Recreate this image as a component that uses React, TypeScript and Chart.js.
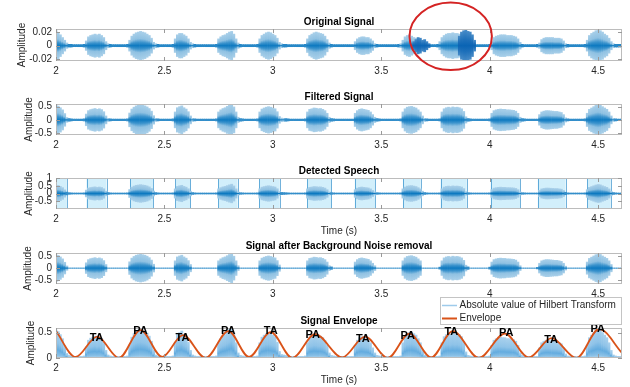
import React, { useEffect, useRef } from 'react';
import { Chart, registerables } from 'chart.js';

Chart.register(...registerables);

const FONT = "'Liberation Sans', Arial, Helvetica, sans-serif";

// ---- time axis ----
const T0 = 2.0;
const DT = 0.01;
const X_MIN = 2.0;
const X_MAX = 4.61;
const xTicks = [2, 2.5, 3, 3.5, 4, 4.5];

// ---- filtered signal: peak amplitude per 10 ms bin (2.00 s .. 4.61 s) ----
const filteredPeak = [
  0.55, 0.52, 0.46, 0.38, 0.24, 0.09, 0.05, 0.04, 0.03, 0.03, // 2.00
  0.03, 0.03, 0.03, 0.04, 0.22, 0.35, 0.39, 0.41, 0.43, 0.40, // 2.10
  0.42, 0.39, 0.31, 0.15, 0.06, 0.04, 0.03, 0.03, 0.03, 0.03, // 2.20
  0.03, 0.03, 0.03, 0.04, 0.26, 0.41, 0.48, 0.53, 0.55, 0.57, // 2.30
  0.55, 0.53, 0.49, 0.43, 0.33, 0.16, 0.06, 0.04, 0.03, 0.03, // 2.40
  0.03, 0.03, 0.03, 0.03, 0.04, 0.30, 0.46, 0.50, 0.53, 0.46, // 2.50
  0.41, 0.31, 0.15, 0.06, 0.04, 0.03, 0.03, 0.03, 0.03, 0.03, // 2.60
  0.03, 0.03, 0.03, 0.03, 0.04, 0.30, 0.38, 0.43, 0.46, 0.51, // 2.70
  0.56, 0.60, 0.49, 0.30, 0.10, 0.05, 0.04, 0.03, 0.03, 0.03, // 2.80
  0.03, 0.03, 0.03, 0.04, 0.30, 0.41, 0.45, 0.48, 0.50, 0.48, // 2.90
  0.45, 0.42, 0.31, 0.13, 0.07, 0.06, 0.05, 0.04, 0.03, 0.03, // 3.00
  0.03, 0.03, 0.03, 0.03, 0.03, 0.04, 0.30, 0.40, 0.42, 0.45, // 3.10
  0.44, 0.42, 0.43, 0.40, 0.35, 0.25, 0.10, 0.05, 0.04, 0.03, // 3.20
  0.03, 0.03, 0.03, 0.03, 0.03, 0.03, 0.03, 0.03, 0.25, 0.35, // 3.30
  0.40, 0.42, 0.40, 0.38, 0.36, 0.30, 0.20, 0.10, 0.05, 0.04, // 3.40
  0.03, 0.03, 0.03, 0.03, 0.03, 0.03, 0.03, 0.03, 0.03, 0.04, // 3.50
  0.30, 0.42, 0.48, 0.50, 0.51, 0.48, 0.45, 0.38, 0.30, 0.15, // 3.60
  0.06, 0.04, 0.03, 0.03, 0.03, 0.03, 0.03, 0.04, 0.30, 0.42, // 3.70
  0.46, 0.48, 0.46, 0.49, 0.47, 0.48, 0.46, 0.42, 0.32, 0.12, // 3.80
  0.05, 0.04, 0.03, 0.03, 0.03, 0.03, 0.03, 0.03, 0.03, 0.03, // 3.90
  0.04, 0.25, 0.35, 0.38, 0.40, 0.41, 0.40, 0.40, 0.38, 0.38, // 4.00
  0.37, 0.36, 0.33, 0.25, 0.10, 0.05, 0.04, 0.03, 0.03, 0.03, // 4.10
  0.03, 0.03, 0.03, 0.20, 0.30, 0.33, 0.35, 0.35, 0.34, 0.33, // 4.20
  0.32, 0.32, 0.30, 0.28, 0.20, 0.08, 0.04, 0.03, 0.03, 0.03, // 4.30
  0.03, 0.03, 0.03, 0.03, 0.04, 0.25, 0.40, 0.45, 0.50, 0.55, // 4.40
  0.58, 0.56, 0.50, 0.45, 0.40, 0.30, 0.15, 0.06, 0.04, 0.03, // 4.50
  0.03, 0.03, // 4.60
];

// ---- original signal: peak amplitude per 10 ms bin, in thousandths ----
const originalPeakMilli = [
  22, 19, 16, 12, 8, 4, 2, 2, 1.5, 1.5, // 2.00
  1.5, 1.5, 1.5, 2, 7, 13, 15, 16, 17, 16, // 2.10
  17, 15, 12, 6, 3, 2, 1.5, 1.5, 1.5, 1.5, // 2.20
  1.5, 1.5, 1.5, 2, 8, 14, 17, 19, 20, 21, // 2.30
  20, 19, 17, 15, 11, 5, 3, 2, 1.5, 1.5, // 2.40
  1.5, 1.5, 1.5, 1.5, 2, 10, 16, 18, 18, 16, // 2.50
  14, 10, 5, 3, 2, 1.5, 1.5, 1.5, 1.5, 1.5, // 2.60
  1.5, 1.5, 1.5, 1.5, 2, 10, 13, 15, 16, 18, // 2.70
  20, 21, 17, 10, 4, 2, 1.5, 1.5, 1.5, 1.5, // 2.80
  1.5, 1.5, 1.5, 2, 10, 15, 17, 19, 20, 19, // 2.90
  17, 15, 11, 5, 3, 2, 2, 1.5, 1.5, 1.5, // 3.00
  1.5, 1.5, 1.5, 1.5, 1.5, 2, 10, 15, 17, 19, // 3.10
  20, 19, 18, 17, 14, 9, 4, 2, 1.5, 1.5, // 3.20
  1.5, 1.5, 1.5, 1.5, 1.5, 1.5, 1.5, 1.5, 6, 10, // 3.30
  12, 13, 13, 12, 12, 10, 7, 3, 2, 1.5, // 3.40
  1.5, 1.5, 1.5, 1.5, 1.5, 1.5, 1.5, 1.5, 2, 3, // 3.50
  8, 13, 15, 16, 14, 12, 11, 10, 8, 6, // 3.60
  4, 3, 2, 1.5, 1.5, 1.5, 2, 6, 12, 15, // 3.70
  17, 18, 18, 19, 18, 18, 17, 16, 14, 12, // 3.80
  8, 5, 3, 2, 1.5, 1.5, 1.5, 1.5, 1.5, 1.5, // 3.90
  2, 6, 12, 14, 15, 16, 16, 16, 15, 15, // 4.00
  15, 14, 13, 10, 5, 2, 1.5, 1.5, 1.5, 1.5, // 4.10
  1.5, 1.5, 2, 4, 9, 11, 12, 12, 12, 12, // 4.20
  11, 11, 11, 10, 7, 3, 2, 1.5, 1.5, 1.5, // 4.30
  1.5, 1.5, 1.5, 1.5, 2, 8, 15, 18, 20, 22, // 4.40
  23, 22, 20, 17, 15, 11, 6, 3, 2, 2, // 4.50
  2, 2, // 4.60
];

// dense low-frequency bursts inside the highlighted region (thousandths)
const burstTimes = [3.65, 3.66, 3.67, 3.68, 3.69, 3.7, 3.71, 3.72, 3.86, 3.87, 3.88, 3.89, 3.9, 3.91, 3.92, 3.93];
const burstPeakMilli = [6, 9, 12, 11, 8, 9, 6, 3, 14, 20, 22, 23, 21, 20, 16, 8];

// ---- detected speech segments (s) ----
const segStart = [2.0, 2.141, 2.341, 2.551, 2.748, 2.937, 3.158, 3.378, 3.6, 3.774, 4.005, 4.222, 4.45];
const segEnd = [2.05, 2.233, 2.448, 2.62, 2.837, 3.032, 3.27, 3.471, 3.682, 3.894, 4.14, 4.35, 4.558];

// ---- envelope extrema ----
const envTimes = [2.0, 2.09, 2.19, 2.29, 2.39, 2.49, 2.585, 2.69, 2.795, 2.89, 2.99, 3.09, 3.195, 3.32, 3.425, 3.53, 3.63, 3.73, 3.83, 3.95, 4.07, 4.18, 4.285, 4.4, 4.505, 4.61];
const envValues = [0.53, 0.02, 0.42, 0.0, 0.55, 0.02, 0.45, 0.0, 0.53, 0.02, 0.51, 0.0, 0.47, 0.01, 0.42, 0.0, 0.48, 0.01, 0.53, 0.0, 0.48, 0.01, 0.39, 0.0, 0.57, 0.1];

// ---- syllable labels ----
const syllableText = ['TA', 'PA', 'TA', 'PA', 'TA', 'PA', 'TA', 'PA', 'TA', 'PA', 'TA', 'PA'];
const syllableTime = [2.187, 2.39, 2.583, 2.794, 2.99, 3.184, 3.415, 3.622, 3.823, 4.076, 4.283, 4.498];
const syllableHeight = [0.39, 0.53, 0.39, 0.525, 0.525, 0.45, 0.37, 0.435, 0.505, 0.49, 0.35, 0.565];

// ---- y ticks ----
const yTicksOriginal = [-0.02, 0, 0.02];
const yTicksFiltered = [-0.5, 0, 0.5];
const yTicksDetected = [-0.5, 0, 0.5, 1];
const yTicksDenoised = [-0.5, 0, 0.5];
const yTicksEnvelope = [0, 0.5];

const plotTitles = ['Original Signal', 'Filtered Signal', 'Detected Speech', 'Signal after Background Noise removal', 'Signal Envelope'];
const legendLabels = ['Absolute value of Hilbert Transform', 'Envelope'];
const highlight = { t: 3.82, v: 0.0138, dt: 0.19, dv: 0.0496 };

// ---- derived series ----
const binTimes = filteredPeak.map((_, i) => Math.round((T0 + i * DT) * 100) / 100);
const symBars = (amps: number[], unit: number) => amps.map((a, i) => ({ x: binTimes[i], y: [-a * unit, a * unit] }));
const inSpeech = (t: number) => segStart.some((s, k) => t >= s - 0.006 && t <= segEnd[k] + 0.006);

const BLUE: [number, number, number] = [0, 114, 189];
const HBLUE: [number, number, number] = [40, 140, 210];
const DBLUE: [number, number, number] = [10, 100, 180];

// opaque colour equivalent of rgb at alpha over white
function onWhite(rgb: [number, number, number], a: number) {
  const c = rgb.map((v) => Math.round(255 - (255 - v) * a));
  return `rgb(${c[0]},${c[1]},${c[2]})`;
}

function gradientFill(rgb: [number, number, number], stops: [number, number][], smallAlpha: number) {
  return (c: any) => {
    const chart = c.chart;
    const raw = c.raw;
    const ys = chart && chart.scales ? chart.scales.y : null;
    if (!raw || !ys || !Array.isArray(raw.y)) return onWhite(rgb, smallAlpha);
    const top = ys.getPixelForValue(raw.y[1]);
    const bot = ys.getPixelForValue(raw.y[0]);
    if (!isFinite(top) || !isFinite(bot) || bot - top < 3) return onWhite(rgb, smallAlpha);
    const g = chart.ctx.createLinearGradient(0, top, 0, bot);
    stops.forEach(([o, a]) => g.addColorStop(o, onWhite(rgb, a)));
    return g;
  };
}

const symStops: [number, number][] = [[0, 0.34], [0.25, 0.44], [0.38, 0.76], [0.5, 0.95], [0.62, 0.76], [0.75, 0.44], [1, 0.34]];
const burstStops: [number, number][] = [[0, 0.75], [0.3, 0.92], [0.5, 1], [0.7, 0.92], [1, 0.75]];
const hilbStops: [number, number][] = [[0, 0.4], [0.45, 0.52], [0.7, 0.72], [0.9, 0.55], [1, 0.35]];

function barDataset(label: string, data: any[], fill: any, order: number) {
  return {
    type: 'bar',
    label,
    data,
    backgroundColor: fill,
    borderWidth: 0,
    barPercentage: 1,
    categoryPercentage: 1,
    grouped: false,
    order,
  };
}

type Spec = {
  key: string;
  title: string;
  plotTop: number;
  plotBottom: number;
  padTop: number;
  yMin: number;
  yMax: number;
  yTicks: number[];
  yLabelX: number;
  xLabel?: string;
  segments?: boolean;
  syllables?: boolean;
  ellipse?: boolean;
  legend?: boolean;
  datasets: any[];
};

const X_AXIS_H = 30;

function decorPlugin(spec: Spec) {
  return {
    id: 'decor',
    beforeDatasetsDraw(chart: any) {
      if (!spec.segments) return;
      const { ctx, chartArea: a, scales } = chart;
      ctx.save();
      segStart.forEach((s, k) => {
        const x0 = scales.x.getPixelForValue(s);
        const x1 = scales.x.getPixelForValue(segEnd[k]);
        ctx.fillStyle = 'rgba(77,190,238,0.25)';
        ctx.fillRect(x0, a.top, x1 - x0, a.bottom - a.top);
        ctx.strokeStyle = 'rgba(0,114,189,0.55)';
        ctx.lineWidth = 1;
        ctx.beginPath();
        ctx.moveTo(Math.round(x0) + 0.5, a.top);
        ctx.lineTo(Math.round(x0) + 0.5, a.bottom);
        ctx.moveTo(Math.round(x1) + 0.5, a.top);
        ctx.lineTo(Math.round(x1) + 0.5, a.bottom);
        ctx.stroke();
      });
      ctx.restore();
    },
    afterDatasetsDraw(chart: any) {
      const { ctx, chartArea: a, scales } = chart;
      ctx.save();
      ctx.strokeStyle = '#bcbcbc';
      ctx.lineWidth = 1;
      ctx.strokeRect(a.left + 0.5, a.top + 0.5, a.right - a.left - 1, a.bottom - a.top - 1);
      ctx.strokeStyle = '#9a9a9a';
      ctx.beginPath();
      xTicks.forEach((v) => {
        const x = Math.round(scales.x.getPixelForValue(v)) + 0.5;
        ctx.moveTo(x, a.top);
        ctx.lineTo(x, a.top + 4);
        ctx.moveTo(x, a.bottom);
        ctx.lineTo(x, a.bottom - 4);
      });
      spec.yTicks.forEach((v) => {
        const y = Math.round(scales.y.getPixelForValue(v)) + 0.5;
        ctx.moveTo(a.left, y);
        ctx.lineTo(a.left + 4, y);
        ctx.moveTo(a.right, y);
        ctx.lineTo(a.right - 4, y);
      });
      ctx.stroke();
      if (spec.syllables) {
        ctx.fillStyle = '#000';
        ctx.font = `bold 11px ${FONT}`;
        ctx.textAlign = 'center';
        ctx.textBaseline = 'middle';
        syllableText.forEach((txt, i) => {
          ctx.fillText(txt, scales.x.getPixelForValue(syllableTime[i]), scales.y.getPixelForValue(syllableHeight[i]));
        });
      }
      ctx.restore();
    },
    afterDraw(chart: any) {
      const { ctx, chartArea: a, scales } = chart;
      ctx.save();
      const cx = (a.left + a.right) / 2;
      ctx.fillStyle = '#000';
      ctx.font = `bold 10px ${FONT}`;
      ctx.textAlign = 'center';
      ctx.textBaseline = 'middle';
      ctx.fillText(spec.title, cx, a.top - 6.5);
      ctx.fillStyle = '#262626';
      ctx.font = `10px ${FONT}`;
      ctx.save();
      ctx.translate(spec.yLabelX, (a.top + a.bottom) / 2);
      ctx.rotate(-Math.PI / 2);
      ctx.fillText('Amplitude', 0, 0);
      ctx.restore();
      if (spec.xLabel) {
        ctx.fillText(spec.xLabel, cx, a.bottom + 22.5);
      }
      if (spec.ellipse) {
        const ex = scales.x.getPixelForValue(highlight.t);
        const ey = scales.y.getPixelForValue(highlight.v);
        const rx = scales.x.getPixelForValue(highlight.t + highlight.dt) - ex;
        const ry = scales.y.getPixelForValue(highlight.v - highlight.dv) - ey;
        ctx.strokeStyle = '#d42323';
        ctx.lineWidth = 2;
        ctx.beginPath();
        ctx.ellipse(ex, ey, rx, ry, 0, 0, Math.PI * 2);
        ctx.stroke();
      }
      if (spec.legend) {
        const right = a.right;
        const left = right - 182;
        const top = a.top - 31;
        const bottom = a.top - 3;
        ctx.fillStyle = '#fff';
        ctx.fillRect(left, top, right - left, bottom - top);
        ctx.strokeStyle = '#c4c4c4';
        ctx.lineWidth = 1;
        ctx.strokeRect(left + 0.5, top + 0.5, right - left - 1, bottom - top - 1);
        const rows = [top + 8.5, top + 21.5];
        const colors = [onWhite(HBLUE, 0.45), '#D95319'];
        const widths = [1.5, 2];
        rows.forEach((y, i) => {
          ctx.strokeStyle = colors[i];
          ctx.lineWidth = widths[i];
          ctx.beginPath();
          ctx.moveTo(left + 2, y);
          ctx.lineTo(left + 17, y);
          ctx.stroke();
          ctx.fillStyle = '#262626';
          ctx.font = `10px ${FONT}`;
          ctx.textAlign = 'left';
          ctx.textBaseline = 'middle';
          ctx.fillText(legendLabels[i], left + 19.5, y);
        });
      }
      ctx.restore();
    },
  };
}

function buildConfig(spec: Spec): any {
  return {
    type: 'bar',
    data: { datasets: spec.datasets },
    options: {
      animation: false,
      responsive: false,
      devicePixelRatio: 1,
      events: [],
      layout: { autoPadding: false, padding: { top: spec.padTop, right: 8, left: 0, bottom: 0 } },
      plugins: { legend: { display: false }, tooltip: { enabled: false }, title: { display: false } },
      scales: {
        x: {
          type: 'linear',
          min: X_MIN,
          max: X_MAX,
          offset: false,
          grid: { display: false, drawTicks: false },
          border: { display: false },
          afterBuildTicks: (s: any) => {
            s.ticks = xTicks.map((v) => ({ value: v }));
          },
          afterFit: (s: any) => {
            s.height = X_AXIS_H;
          },
          ticks: {
            autoSkip: false,
            maxRotation: 0,
            padding: 4,
            color: '#262626',
            font: { family: FONT, size: 10 },
            callback: (v: any) => String(v),
          },
        },
        y: {
          type: 'linear',
          min: spec.yMin,
          max: spec.yMax,
          grid: { display: false, drawTicks: false },
          border: { display: false },
          afterBuildTicks: (s: any) => {
            s.ticks = spec.yTicks.map((v) => ({ value: v }));
          },
          afterFit: (s: any) => {
            s.width = 56;
          },
          ticks: {
            autoSkip: false,
            padding: 4,
            color: '#262626',
            font: { family: FONT, size: 10 },
            callback: (v: any) => String(v),
          },
        },
      },
    },
    plugins: [decorPlugin(spec)],
  };
}

function SubPlot({ spec }: { spec: Spec }) {
  const ref = useRef<HTMLCanvasElement | null>(null);
  const height = spec.plotBottom - spec.plotTop + spec.padTop + X_AXIS_H;
  const top = spec.plotTop - spec.padTop;
  useEffect(() => {
    if (!ref.current) return;
    const chart = new Chart(ref.current, buildConfig(spec));
    return () => chart.destroy();
  }, [spec]);
  return (
    <canvas
      ref={ref}
      width={630}
      height={height}
      style={{ position: 'absolute', left: 0, top, width: 630, height }}
    />
  );
}

const specs: Spec[] = [
  {
    key: 'orig',
    title: plotTitles[0],
    plotTop: 29,
    plotBottom: 61,
    padTop: 29,
    yMin: -0.0225,
    yMax: 0.0245,
    yTicks: yTicksOriginal,
    yLabelX: 22.7,
    ellipse: true,
    datasets: [
      barDataset('burst', burstTimes.map((t, i) => ({ x: t, y: [-burstPeakMilli[i] * 0.001, burstPeakMilli[i] * 0.001] })), gradientFill(DBLUE, burstStops, 0.9), 1),
      barDataset('original', symBars(originalPeakMilli, 0.001), gradientFill(BLUE, symStops, 0.85), 2),
    ],
  },
  {
    key: 'filt',
    title: plotTitles[1],
    plotTop: 104,
    plotBottom: 135,
    padTop: 29,
    yMin: -0.57,
    yMax: 0.6,
    yTicks: yTicksFiltered,
    yLabelX: 29,
    datasets: [barDataset('filtered', symBars(filteredPeak, 1), gradientFill(BLUE, symStops, 0.8), 1)],
  },
  {
    key: 'det',
    title: plotTitles[2],
    plotTop: 178,
    plotBottom: 209,
    padTop: 29,
    yMin: -1,
    yMax: 1,
    yTicks: yTicksDetected,
    yLabelX: 29,
    xLabel: 'Time (s)',
    segments: true,
    datasets: [barDataset('detected', symBars(filteredPeak, 1), gradientFill(BLUE, symStops, 0.8), 1)],
  },
  {
    key: 'den',
    title: plotTitles[3],
    plotTop: 253,
    plotBottom: 284,
    padTop: 29,
    yMin: -0.65,
    yMax: 0.62,
    yTicks: yTicksDenoised,
    yLabelX: 28,
    datasets: [
      barDataset(
        'denoised',
        symBars(filteredPeak.map((a, i) => (inSpeech(binTimes[i]) ? a : 0)), 1),
        gradientFill(BLUE, symStops, 0.8),
        1,
      ),
      {
        type: 'line',
        label: 'zero',
        data: binTimes.map((t) => ({ x: t, y: 0 })),
        borderColor: onWhite(BLUE, 0.35),
        borderWidth: 1,
        pointRadius: 0,
        order: 2,
      },
    ],
  },
  {
    key: 'env',
    title: plotTitles[4],
    plotTop: 328,
    plotBottom: 358,
    padTop: 36,
    yMin: 0,
    yMax: 0.59,
    yTicks: yTicksEnvelope,
    yLabelX: 31.7,
    xLabel: 'Time (s)',
    syllables: true,
    legend: true,
    datasets: [
      {
        type: 'line',
        label: legendLabels[1],
        data: envTimes.map((t, i) => ({ x: t, y: envValues[i] })),
        borderColor: '#D95319',
        borderWidth: 1.8,
        pointRadius: 0,
        cubicInterpolationMode: 'monotone',
        order: 0,
      },
      barDataset(legendLabels[0], filteredPeak.map((a, i) => ({ x: binTimes[i], y: [0, a] })), gradientFill(HBLUE, hilbStops, 0.45), 1),
    ],
  },
];

export default function App() {
  return (
    <div style={{ position: 'absolute', left: 0, top: 0, width: 630, height: 387, overflow: 'hidden', background: '#fff' }}>
      {specs.map((s) => (
        <SubPlot key={s.key} spec={s} />
      ))}
    </div>
  );
}
